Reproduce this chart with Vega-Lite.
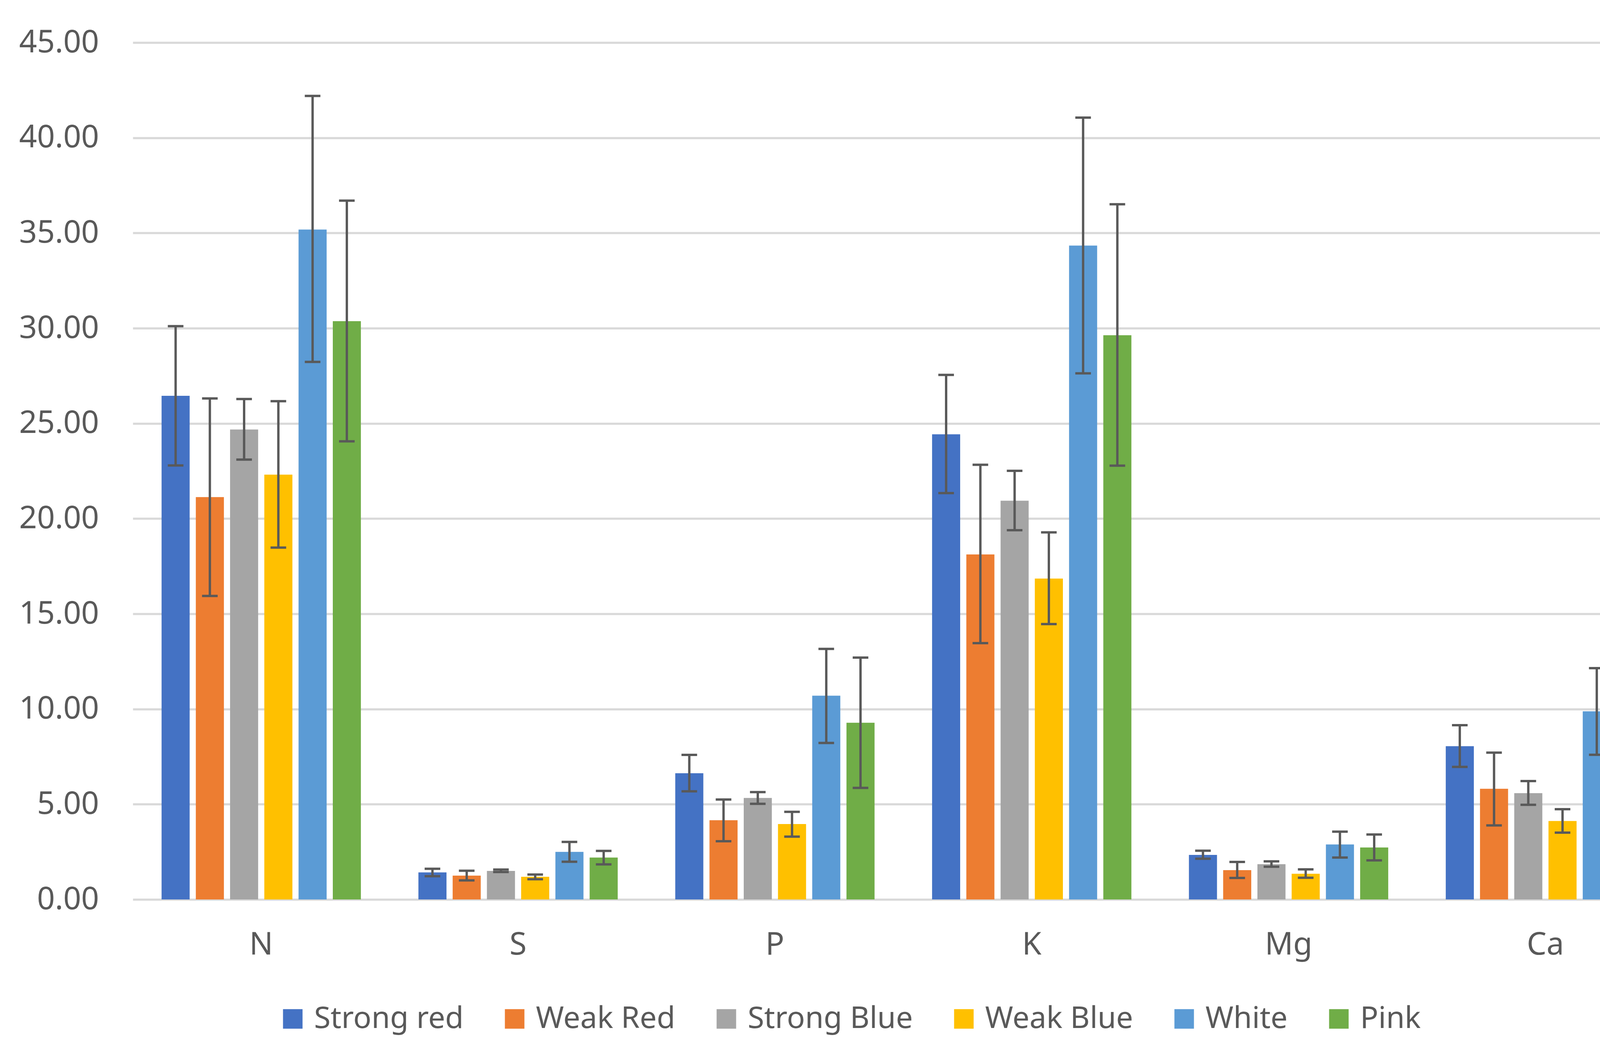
{
  "$schema": "https://vega.github.io/schema/vega-lite/v6.json",
  "width": 3945,
  "height": 2193,
  "autosize": {"type": "none"},
  "padding": {"left": 340, "top": 109, "right": 33, "bottom": 393},
  "background": "white",
  "data": {
    "values": [
      {"element": "N", "treatment": "Strong red", "value": 26.45, "lo": 22.79, "hi": 30.11},
      {"element": "N", "treatment": "Weak Red", "value": 21.13, "lo": 15.94, "hi": 26.31},
      {"element": "N", "treatment": "Strong Blue", "value": 24.68, "lo": 23.10, "hi": 26.28},
      {"element": "N", "treatment": "Weak Blue", "value": 22.31, "lo": 18.48, "hi": 26.17},
      {"element": "N", "treatment": "White", "value": 35.18, "lo": 28.23, "hi": 42.20},
      {"element": "N", "treatment": "Pink", "value": 30.37, "lo": 24.06, "hi": 36.70},
      {"element": "S", "treatment": "Strong red", "value": 1.42, "lo": 1.22, "hi": 1.61},
      {"element": "S", "treatment": "Weak Red", "value": 1.25, "lo": 1.00, "hi": 1.51},
      {"element": "S", "treatment": "Strong Blue", "value": 1.50, "lo": 1.44, "hi": 1.57},
      {"element": "S", "treatment": "Weak Blue", "value": 1.19, "lo": 1.06, "hi": 1.31},
      {"element": "S", "treatment": "White", "value": 2.50, "lo": 1.98, "hi": 3.02},
      {"element": "S", "treatment": "Pink", "value": 2.20, "lo": 1.84, "hi": 2.55},
      {"element": "P", "treatment": "Strong red", "value": 6.63, "lo": 5.68, "hi": 7.59},
      {"element": "P", "treatment": "Weak Red", "value": 4.16, "lo": 3.06, "hi": 5.25},
      {"element": "P", "treatment": "Strong Blue", "value": 5.33, "lo": 5.02, "hi": 5.64},
      {"element": "P", "treatment": "Weak Blue", "value": 3.96, "lo": 3.30, "hi": 4.60},
      {"element": "P", "treatment": "White", "value": 10.70, "lo": 8.22, "hi": 13.16},
      {"element": "P", "treatment": "Pink", "value": 9.28, "lo": 5.86, "hi": 12.70},
      {"element": "K", "treatment": "Strong red", "value": 24.43, "lo": 21.34, "hi": 27.55},
      {"element": "K", "treatment": "Weak Red", "value": 18.12, "lo": 13.46, "hi": 22.83},
      {"element": "K", "treatment": "Strong Blue", "value": 20.94, "lo": 19.39, "hi": 22.51},
      {"element": "K", "treatment": "Weak Blue", "value": 16.85, "lo": 14.46, "hi": 19.28},
      {"element": "K", "treatment": "White", "value": 34.34, "lo": 27.63, "hi": 41.06},
      {"element": "K", "treatment": "Pink", "value": 29.63, "lo": 22.78, "hi": 36.51},
      {"element": "Mg", "treatment": "Strong red", "value": 2.34, "lo": 2.14, "hi": 2.56},
      {"element": "Mg", "treatment": "Weak Red", "value": 1.54, "lo": 1.13, "hi": 1.97},
      {"element": "Mg", "treatment": "Strong Blue", "value": 1.85, "lo": 1.72, "hi": 2.00},
      {"element": "Mg", "treatment": "Weak Blue", "value": 1.35, "lo": 1.14, "hi": 1.58},
      {"element": "Mg", "treatment": "White", "value": 2.89, "lo": 2.20, "hi": 3.56},
      {"element": "Mg", "treatment": "Pink", "value": 2.73, "lo": 2.05, "hi": 3.41},
      {"element": "Ca", "treatment": "Strong red", "value": 8.05, "lo": 6.96, "hi": 9.15},
      {"element": "Ca", "treatment": "Weak Red", "value": 5.81, "lo": 3.89, "hi": 7.71},
      {"element": "Ca", "treatment": "Strong Blue", "value": 5.58, "lo": 4.97, "hi": 6.22},
      {"element": "Ca", "treatment": "Weak Blue", "value": 4.12, "lo": 3.51, "hi": 4.74},
      {"element": "Ca", "treatment": "White", "value": 9.88, "lo": 7.60, "hi": 12.15},
      {"element": "Ca", "treatment": "Pink", "value": 10.74, "lo": 8.05, "hi": 13.44}
    ]
  },
  "encoding": {
    "x": {
      "field": "element",
      "type": "nominal",
      "sort": ["N", "S", "P", "K", "Mg", "Ca"],
      "scale": {"paddingInner": 0.2, "paddingOuter": 0.1},
      "axis": {
        "title": null,
        "labelAngle": 0,
        "domain": false,
        "ticks": false,
        "tickSize": 0,
        "labelPadding": 77,
        "labelFontSize": 80,
        "labelLimit": 0,
        "labelColor": "#595959",
        "labelFont": "Noto Sans"
      }
    },
    "xOffset": {
      "field": "treatment",
      "type": "nominal",
      "sort": ["Strong red", "Weak Red", "Strong Blue", "Weak Blue", "White", "Pink"],
      "scale": {"paddingInner": 0.18, "paddingOuter": 0.09}
    }
  },
  "layer": [
    {
      "mark": {"type": "bar"},
      "encoding": {
        "y": {
          "field": "value",
          "type": "quantitative",
          "scale": {"domain": [0, 45], "nice": false},
          "axis": {
            "title": null,
            "values": [0, 5, 10, 15, 20, 25, 30, 35, 40, 45],
            "format": ".2f",
            "domain": false,
            "ticks": false,
            "tickSize": 0,
            "labelPadding": 87,
            "labelFontSize": 80,
            "labelLimit": 0,
            "labelColor": "#595959",
            "labelFont": "Noto Sans",
            "grid": true,
            "gridColor": "#d9d9d9",
            "gridWidth": 5.5
          }
        },
        "color": {
          "field": "treatment",
          "type": "nominal",
          "sort": ["Strong red", "Weak Red", "Strong Blue", "Weak Blue", "White", "Pink"],
          "scale": {
            "domain": ["Strong red", "Weak Red", "Strong Blue", "Weak Blue", "White", "Pink"],
            "range": ["#4472C4", "#ED7D31", "#A5A5A5", "#FFC000", "#5B9BD5", "#70AD47"]
          },
          "legend": {
            "title": null,
            "orient": "none",
            "legendX": 371,
            "legendY": 2460,
            "direction": "horizontal",
            "symbolType": "square",
            "symbolSize": 2500,
            "symbolStrokeWidth": 0,
            "labelFontSize": 77,
            "labelLimit": 0,
            "labelFont": "Noto Sans",
            "labelColor": "#595959",
            "labelOffset": 16,
            "columnPadding": 92
          }
        }
      }
    },
    {
      "mark": {"type": "rule", "color": "#595959", "strokeWidth": 6},
      "encoding": {
        "y": {"field": "lo", "type": "quantitative"},
        "y2": {"field": "hi"}
      }
    },
    {
      "mark": {"type": "tick", "color": "#595959", "size": 40, "thickness": 6, "opacity": 1},
      "encoding": {
        "y": {"field": "lo", "type": "quantitative"}
      }
    },
    {
      "mark": {"type": "tick", "color": "#595959", "size": 40, "thickness": 6, "opacity": 1},
      "encoding": {
        "y": {"field": "hi", "type": "quantitative"}
      }
    }
  ],
  "config": {
    "view": {"stroke": null},
    "font": "Noto Sans"
  }
}
